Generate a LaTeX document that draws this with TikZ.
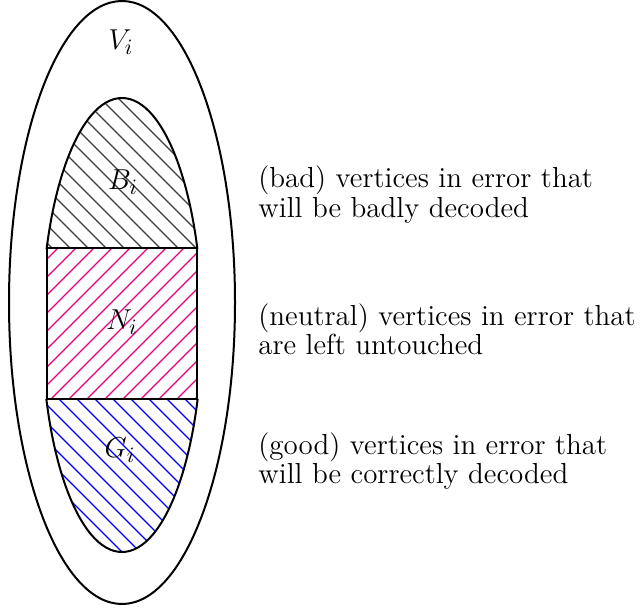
\documentclass[tikz,border=0pt]{standalone}
\definecolor{hatchgray}{RGB}{60,60,60}
\definecolor{hatchmag}{RGB}{230,0,126}
\definecolor{hatchblue}{RGB}{0,0,255}
\begin{document}
\begin{tikzpicture}[x=0.5pt,y=-0.5pt,
  outline/.style={line width=1pt,draw=black},
  hatchline/.style={line width=0.7pt},
  setlabel/.style={inner sep=0pt,font=\fontsize{15}{17}\selectfont},
  desc/.style={inner sep=0pt,anchor=base west,align=left,font=\fontsize{14.5}{14.5}\selectfont}]
\useasboundingbox (0,0) rectangle (641,609);
% outer set V_i
\draw[outline] (122,302.5) ellipse [x radius=113, y radius=301.5];
% bad part (top cap of inner ellipse)
\begin{scope}
  \clip (0,0) rectangle (641,248);
  \clip (122,325) ellipse [x radius=80, y radius=227];
  \foreach \k in {-700,-682,...,300}
    \draw[hatchline,hatchgray] (\k,0) -- ++(700,700);
\end{scope}
\begin{scope}
  \clip (0,0) rectangle (641,248);
  \draw[outline] (122,325) ellipse [x radius=80, y radius=227];
\end{scope}
% good part (bottom cap of inner ellipse)
\begin{scope}
  \clip (0,399) rectangle (641,609);
  \clip (122,325) ellipse [x radius=80, y radius=227];
  \foreach \k in {-700,-682,...,300}
    \draw[hatchline,hatchblue] (\k,0) -- ++(700,700);
\end{scope}
\begin{scope}
  \clip (0,399) rectangle (641,609);
  \draw[outline] (122,325) ellipse [x radius=80, y radius=227];
\end{scope}
% neutral part
\begin{scope}
  \clip (46.7,248) rectangle (197.3,399);
  \foreach \k in {0,18,...,1000}
    \draw[hatchline,hatchmag] (\k,0) -- ++(-700,700);
\end{scope}
\draw[outline] (46.7,248) rectangle (197.3,399);
% labels
\node[setlabel] (V) at (121,42) {$V_i$};
\node[setlabel] (B) at (123,182) {$B_i$};
\node[setlabel] (N) at (122,322) {$N_i$};
\node[setlabel] (G) at (120,450) {$G_i$};
\node[desc] (tb) at (258,217) {(bad) vertices in error that\\will be badly decoded};
\node[desc] (tn) at (258,354) {(neutral) vertices in error that\\are left untouched};
\node[desc] (tg) at (258,483) {(good) vertices in error that\\will be correctly decoded};
\end{tikzpicture}
\end{document}
